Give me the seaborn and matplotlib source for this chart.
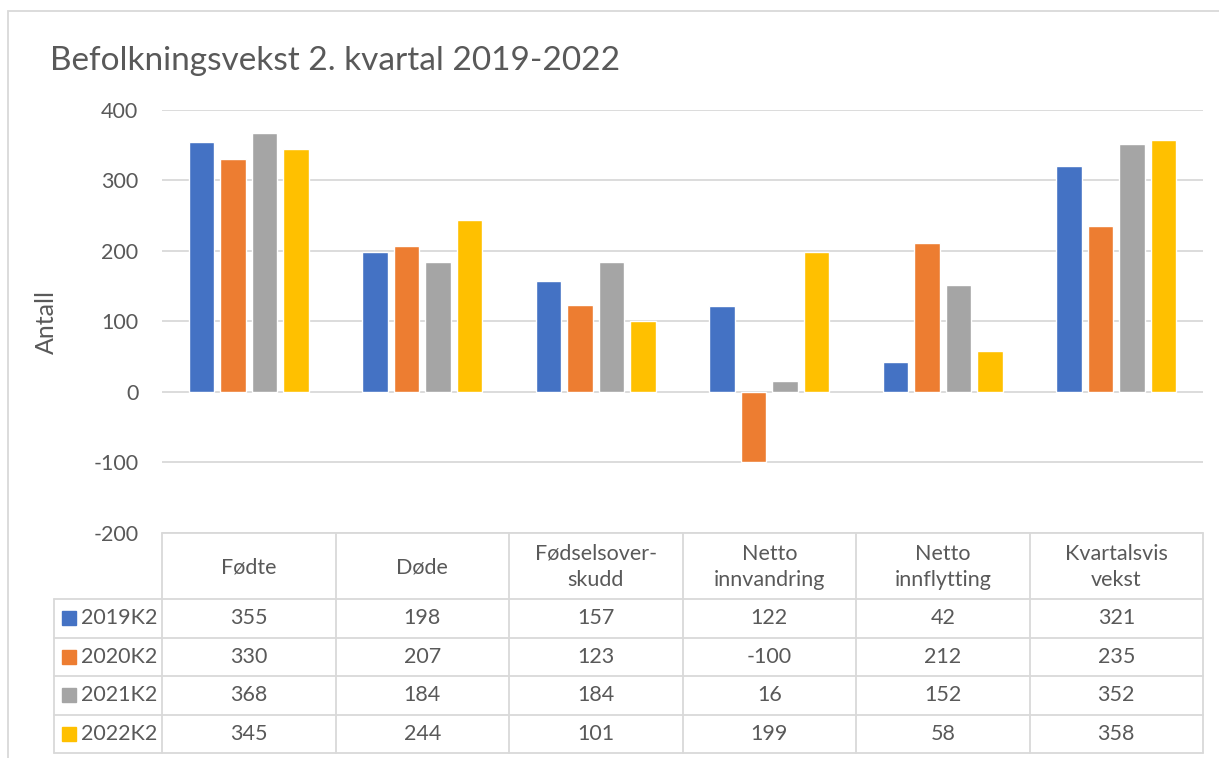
import pandas as pd
import matplotlib.pyplot as plt
import seaborn as sns
from matplotlib.patches import Rectangle

kategorier = ["Fødte", "Døde", "Fødselsover-\nskudd", "Netto\ninnvandring",
              "Netto\ninnflytting", "Kvartalsvis\nvekst"]
perioder = ["2019K2", "2020K2", "2021K2", "2022K2"]
v2019 = [355, 198, 157, 122, 42, 321]
v2020 = [330, 207, 123, -100, 212, 235]
v2021 = [368, 184, 184, 16, 152, 352]
v2022 = [345, 244, 101, 199, 58, 358]
farger = ["#4472C4", "#ED7D31", "#A5A5A5", "#FFC000"]
yticks = [-200, -100, 0, 100, 200, 300, 400]

verdier = [v2019, v2020, v2021, v2022]
df = pd.DataFrame({
    "kategori": kategorier * len(perioder),
    "periode": [p for p in perioder for _ in kategorier],
    "antall": [v for rad in verdier for v in rad],
})

sns.set_theme(style="white")
plt.rcParams["font.family"] = ["Lato", "DejaVu Sans"]
plt.rcParams["axes.unicode_minus"] = False
tekst = "#595959"
linje = "#d9d9d9"
fs = 15.5

W, H = 1219, 758
fig = plt.figure(figsize=(W / 100, H / 100), dpi=100)

# ramme rundt hele diagrammet
fig.patches.append(Rectangle((8 / W, -0.1), 1.2, 1 - 11 / H + 0.1,
                             transform=fig.transFigure, fill=False,
                             edgecolor=linje, linewidth=1.3))

ax = fig.add_axes([162 / W, 1 - 533 / H, 1041 / W, 423 / H])
sns.barplot(data=df, x="kategori", y="antall", hue="periode", palette=farger,
            order=kategorier, hue_order=perioder, width=0.727, gap=0.19,
            saturation=1, legend=False, ax=ax, zorder=3)
ax.set_xlim(-0.5, len(kategorier) - 0.5)
ax.set_ylim(-200, 400)
ax.set_yticks(yticks)
ax.set_xticks([])
ax.set_xlabel("")
ax.grid(axis="y", color=linje, linewidth=1.3, zorder=0)
for s in ax.spines.values():
    s.set_visible(False)
ax.tick_params(axis="y", length=0, pad=17, labelsize=fs, labelcolor=tekst)
ax.set_ylabel("Antall", fontsize=18, color=tekst)
ax.yaxis.set_label_coords(-0.1, 0.5)

fig.text(50 / W, 1 - 70 / H, "Befolkningsvekst 2. kvartal 2019-2022",
         fontsize=24, color=tekst, va="baseline")

# datatabell under diagrammet
tab = fig.add_axes([162 / W, 1 - 753 / H, 1041 / W, 220 / H])
tab.set_xlim(-0.5, len(kategorier) - 0.5)
tab.set_ylim(220, 0)
tab.axis("off")
hode = 66
rad_h = (220 - hode) / len(perioder)
venstre = -0.5 - 108 / 173.5

kw = dict(color=linje, linewidth=1.3, clip_on=False)
tab.plot([-0.5, len(kategorier) - 0.5], [0, 0], **kw)
for i in range(len(perioder) + 1):
    y = hode + i * rad_h
    tab.plot([venstre, len(kategorier) - 0.5], [y, y], **kw)
for j in range(len(kategorier) + 1):
    tab.plot([j - 0.5, j - 0.5], [0, 220], **kw)
tab.plot([venstre, venstre], [hode, 220], **kw)

for j, k in enumerate(kategorier):
    tab.text(j, hode / 2 + 1, k, ha="center", va="center", fontsize=fs,
             color=tekst, linespacing=1.4)
for i, (p, rad, f) in enumerate(zip(perioder, verdier, farger)):
    yc = hode + (i + 0.5) * rad_h
    tab.add_patch(Rectangle((venstre + 8 / 173.5, yc - 7), 14 / 173.5, 14,
                            color=f, clip_on=False))
    tab.text(venstre + 27 / 173.5, yc, p, ha="left", va="center",
             fontsize=fs, color=tekst)
    for j, v in enumerate(rad):
        tab.text(j, yc, str(v), ha="center", va="center", fontsize=fs,
                 color=tekst)

fig.savefig("out.png", dpi=100)
